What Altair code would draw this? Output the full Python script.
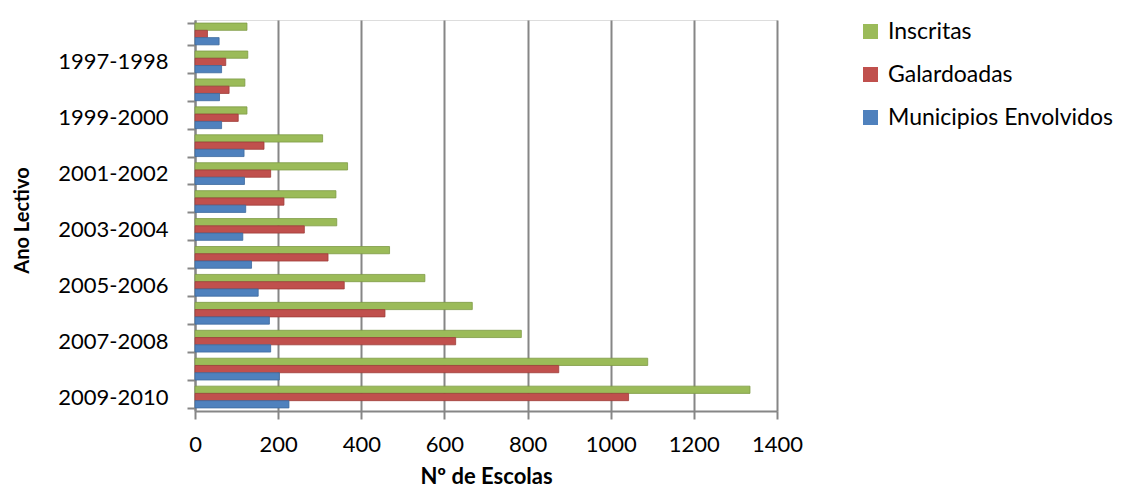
import altair as alt
import pandas as pd

anos = ["1996-1997", "1997-1998", "1998-1999", "1999-2000", "2000-2001",
        "2001-2002", "2002-2003", "2003-2004", "2004-2005", "2005-2006",
        "2006-2007", "2007-2008", "2008-2009", "2009-2010"]
inscritas = [125, 127, 120, 125, 307, 367, 339, 341, 468, 553, 667, 785, 1089, 1335]
galardoadas = [30, 74, 82, 104, 166, 182, 214, 263, 320, 359, 457, 627, 875, 1043]
municipios = [58, 64, 59, 64, 118, 119, 122, 115, 136, 152, 179, 182, 203, 226]

series = ["Inscritas", "Galardoadas", "Municipios Envolvidos"]
cores = ["#9BBB59", "#C0504D", "#4F81BD"]
contornos = ["#7E9B45", "#9E3D3A", "#3E6A9E"]
x_ticks = [0, 200, 400, 600, 800, 1000, 1200, 1400]

rows = []
for i, a in enumerate(anos):
    for k, (s, vals) in enumerate(zip(series, [inscritas, galardoadas, municipios])):
        rows.append({"Ano": a, "Serie": s, "Ordem": k, "Valor": vals[i]})
df = pd.DataFrame(rows)

shown = anos[1::2]
label_expr = "indexof([" + ",".join("'" + s + "'" for s in shown) + "], datum.value) >= 0 ? datum.label : ''"

FONT = "Lato"
GRAY = "#868686"

chart = alt.Chart(df).mark_bar(strokeWidth=0.8).encode(
    x=alt.X("Valor:Q",
            scale=alt.Scale(domain=[0, 1400], nice=False),
            axis=alt.Axis(values=x_ticks, format="d", labelOverlap=False, labelFlush=False,
                          title="Nº de Escolas", grid=True,
                          gridColor=GRAY, gridWidth=2, domainColor=GRAY, domainWidth=2,
                          tickColor=GRAY, tickWidth=2, tickSize=8,
                          labelFont=FONT, labelFontSize=22, labelColor="black",
                          labelPadding=15, titleFont=FONT, titleFontSize=22,
                          titleFontWeight="bold", titleColor="black", titlePadding=11)),
    y=alt.Y("Ano:N", sort=anos,
            scale=alt.Scale(paddingInner=0.22, paddingOuter=0.11),
            axis=alt.Axis(title="Ano Lectivo", tickBand="extent", labelExpr=label_expr,
                          labelOverlap=False,
                          domainColor=GRAY, domainWidth=2, tickColor=GRAY, tickWidth=2,
                          tickSize=8, labelFont=FONT, labelFontSize=22, labelColor="black",
                          labelPadding=19, titleFont=FONT, titleFontSize=20,
                          titleFontWeight="bold", titleColor="black",
                          titleAngle=-90, titleX=-173, titleY=200, titleAlign="center",
                          titleBaseline="middle")),
    yOffset=alt.YOffset("Serie:N", sort=series),
    color=alt.Color("Serie:N", sort=series,
                    scale=alt.Scale(domain=series, range=cores),
                    legend=alt.Legend(title=None, orient="none", legendX=664, legendY=0,
                                      symbolType="square", symbolSize=225,
                                      symbolStrokeWidth=0, labelFont=FONT,
                                      labelFontSize=23, labelColor="black", labelLimit=400,
                                      labelOffset=6, rowPadding=19, padding=0)),
    stroke=alt.Stroke("Serie:N", sort=series,
                      scale=alt.Scale(domain=series, range=contornos), legend=None),
).properties(
    width=582,
    height=391,
    autosize=alt.AutoSizeParams(type="none"),
    padding={"left": 187, "top": 12, "right": 346, "bottom": 79},
).configure_view(stroke=None).configure(background="white")

chart.save("out.html", embed_options={"renderer": "svg", "actions": False})
